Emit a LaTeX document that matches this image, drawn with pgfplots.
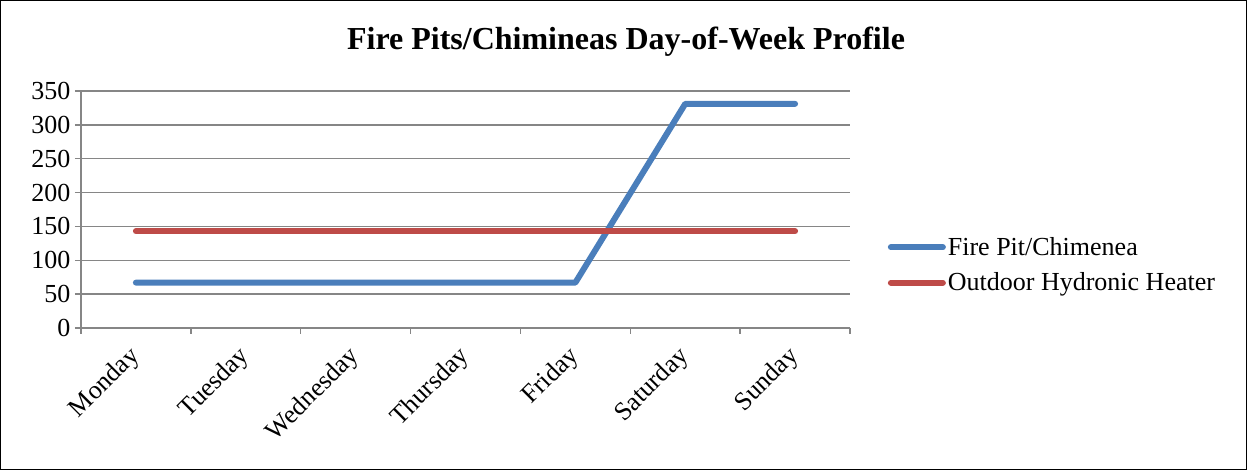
\documentclass[border=0pt]{standalone}
\usepackage{pgfplots}
\pgfplotsset{compat=1.18}
\usepackage{fontspec}
\setmainfont{Liberation Serif}
\definecolor{fpblue}{HTML}{4A7EBB}
\definecolor{ohred}{HTML}{BE4B48}
\definecolor{gridgray}{HTML}{868686}
\begin{document}
\begin{tikzpicture}[x=1pt,y=1pt]
\draw[black,line width=1.2pt] (0.6,0.6) rectangle (1246.4,469.4);
\node[font=\fontsize{32}{36}\selectfont\bfseries] at (626,428) {Fire Pits/Chimineas Day-of-Week Profile};
\begin{axis}[
    at={(81pt,142pt)}, anchor=south west,
    width=769pt, height=237pt, scale only axis,
    xmin=-0.5, xmax=6.5,
    ymin=0, ymax=350,
    ytick={0,50,...,350},
    xtick={0,...,6},
    xticklabels={Monday,Tuesday,Wednesday,Thursday,Friday,Saturday,Sunday},
    minor xtick={-0.5,0.5,...,6.5},
    major x tick style={draw=none},
    axis x line*=bottom, axis y line*=left,
    axis line style={gridgray,line width=1.5pt,-},
    tick style={gridgray,line width=1.5pt},
    tick align=outside,
    major tick length=6pt, minor tick length=6pt,
    ymajorgrids, grid style={gridgray,line width=1.5pt},
    tick label style={font=\fontsize{26}{28}\selectfont},
    /pgf/number format/assume math mode=true,
    x tick label style={rotate=45,anchor=north east,inner sep=1pt,xshift=-12pt},
    yticklabel style={xshift=-1pt},
    legend style={at={(1.049,0.266)},anchor=west,draw=none,fill=none,
        font=\fontsize{26}{28}\selectfont,row sep=12pt,inner sep=0pt},
    legend cell align=left,
    legend image code/.code={\draw[#1,line cap=round] (0pt,0pt) -- (52pt,0pt);},
    clip=false,
]
\addplot[fpblue,line width=6pt,line cap=round,line join=round] coordinates {
    (0,67)(1,67)(2,67)(3,67)(4,67)(5,331)(6,331)};
\addlegendentry{Fire Pit/Chimenea}
\addplot[ohred,line width=6pt,line cap=round,line join=round] coordinates {
    (0,143)(1,143)(2,143)(3,143)(4,143)(5,143)(6,143)};
\addlegendentry{Outdoor Hydronic Heater}
\end{axis}
\end{tikzpicture}
\end{document}
